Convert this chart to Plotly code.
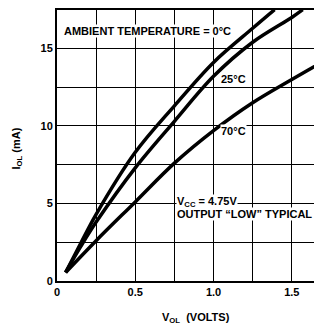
import plotly.graph_objects as go

# Data (V_OL in volts, I_OL in mA)
v_0c = [0.055, 0.15, 0.25, 0.5, 0.75, 1.0, 1.25, 1.39]
i_0c = [0.55, 2.4, 4.3, 8.3, 11.3, 14.1, 16.3, 17.5]

v_25c = [0.055, 0.15, 0.25, 0.5, 0.75, 1.0, 1.25, 1.5, 1.57]
i_25c = [0.55, 2.2, 3.8, 7.3, 10.3, 13.2, 15.4, 17.0, 17.5]

v_70c = [0.055, 0.25, 0.5, 0.75, 1.0, 1.25, 1.5, 1.69]
i_70c = [0.55, 2.6, 5.1, 7.6, 9.7, 11.5, 13.0, 14.1]

x_grid = [0, 0.25, 0.5, 0.75, 1.0, 1.25, 1.5]
x_ticklabels = ["0", "", "0.5", "", "1.0", "", "1.5"]
y_grid = [0, 2.5, 5, 7.5, 10, 12.5, 15]
y_ticklabels = ["0", "", "5", "", "10", "", "15"]

FONT = "Liberation Sans"

fig = go.Figure()
for v, i in [(v_0c, i_0c), (v_25c, i_25c), (v_70c, i_70c)]:
    fig.add_trace(go.Scatter(x=v, y=i, mode="lines",
                             line=dict(color="black", width=3.5, shape="spline"),
                             showlegend=False, hoverinfo="skip", cliponaxis=True))

def ann(text, x, y, xanchor="left", **kw):
    fig.add_annotation(text=text, x=x, y=y, xanchor=xanchor, yanchor="middle",
                       showarrow=False, bgcolor="white", borderpad=0,
                       font=dict(family=FONT, size=11, color="black"), **kw)

ann("<b>AMBIENT TEMPERATURE = 0°C</b>", 0.036, 16.15)
ann("<b>25°C</b>", 1.04, 13.0)
ann("<b>70°C</b>", 1.04, 9.66)
ann("<b>V<sub>CC</sub> = 4.75V</b>", 0.758, 5.1)
ann("<b>OUTPUT “LOW” TYPICAL</b>", 0.758, 4.3)

fig.add_annotation(text="<b>I<sub>OL</sub> (mA)</b>", xref="paper", yref="paper",
                   x=-0.15, y=0.49, textangle=-90, showarrow=False,
                   xanchor="center", yanchor="middle",
                   font=dict(family=FONT, size=11, color="black"))
fig.add_annotation(text="<b>V<sub>OL</sub>  (VOLTS)</b>", xref="paper", yref="paper",
                   x=0.523, y=-0.135, showarrow=False,
                   xanchor="center", yanchor="middle",
                   font=dict(family=FONT, size=11, color="black"))

# The page body has an 8px default margin, so the figure is sized/offset to fit.
fig.update_layout(
    width=314, height=317,
    margin=dict(l=49, r=0, t=2, b=44, autoexpand=False),
    paper_bgcolor="white", plot_bgcolor="white",
    font=dict(family=FONT, size=11, color="black"),
    xaxis=dict(range=[0, 1.693], tickvals=x_grid,
               ticktext=["<b>%s</b>" % t if t else "" for t in x_ticklabels],
               showgrid=True, gridcolor="black", gridwidth=1,
               showline=True, linecolor="black", linewidth=2, mirror=True,
               zeroline=False, ticks="", automargin=False),
    yaxis=dict(range=[0, 17.48], tickvals=y_grid,
               ticktext=["<b>%s</b>" % t if t else "" for t in y_ticklabels],
               showgrid=True, gridcolor="black", gridwidth=1,
               showline=True, linecolor="black", linewidth=2,
               zeroline=False, ticks="", automargin=False),
)

fig.write_html("out.html")
